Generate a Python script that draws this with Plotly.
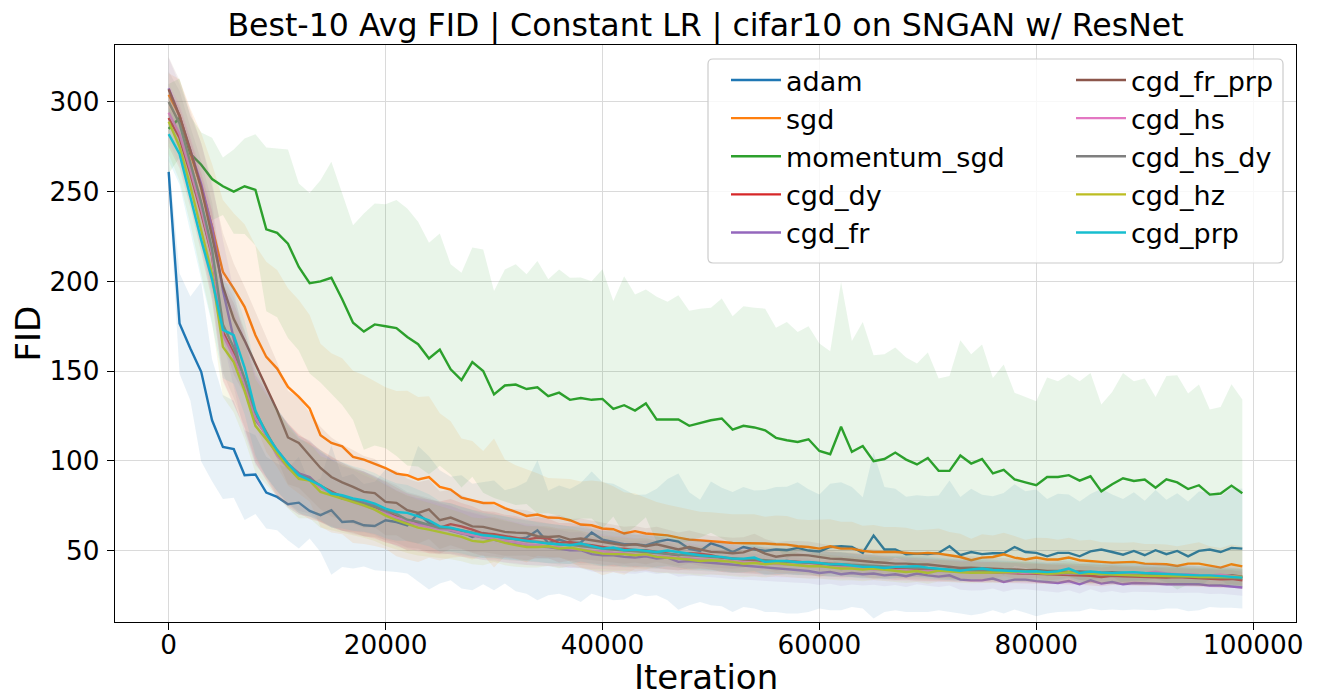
import plotly.graph_objects as go

# ---------------- data ----------------
iterations = [i * 1000 for i in range(100)]

series_names = ["adam", "sgd", "momentum_sgd", "cgd_dy", "cgd_fr",
                "cgd_fr_prp", "cgd_hs", "cgd_hs_dy", "cgd_hz", "cgd_prp"]
series_colors = ["#1f77b4", "#ff7f0e", "#2ca02c", "#d62728", "#9467bd",
                 "#8c564b", "#e377c2", "#7f7f7f", "#bcbd22", "#17becf"]

adam_mean = [261, 176.5, 162.6, 149.6, 122.6, 107.7, 106.5, 92, 92.4, 82.3,
             79.9, 75.8, 76.7, 72.1, 69.7, 72.5, 65.9, 66.3, 64.1, 63.7,
             66.9, 65.9, 64.1, 70.6, 65.4, 63.2, 62.3, 60.4, 57.6, 59.8,
             58.5, 57.6, 56.3, 57.2, 61.3, 54.2, 56.1, 54.2, 54.5, 60,
             56.1, 54.8, 53.5, 53.5, 52.9, 54.8, 56.1, 55, 51, 49.8,
             54, 52, 49.2, 52, 50.6, 49.8, 50.6, 50.2, 51.5, 50,
             49.5, 52, 52.4, 52, 48.7, 58.4, 50.6, 50.6, 47.9, 48.3,
             48, 48.7, 52.4, 47.4, 49.2, 48, 48.5, 48.5, 52, 49.2,
             48.7, 46.8, 48.7, 48.7, 46.8, 49.6, 50.6, 49.2, 47.7, 49.8,
             47.4, 50.2, 48, 49.8, 46.8, 49.8, 50.6, 49.2, 51.5, 51.1]
adam_std = [8, 28, 29, 50, 34, 29, 27, 25, 22, 20,
            18.6, 20, 25.6, 15.4, 20.5, 36, 25, 26.3, 23, 24.7,
            28.3, 27.8, 26.9, 37.7, 37.1, 31.6, 28.9, 31.6, 29.7, 28.6,
            30.6, 26, 29, 31.2, 39, 29.1, 30.1, 30.1, 33.2, 34,
            32, 32.5, 30.8, 27.5, 28.4, 29.7, 33.8, 38, 31.5, 28.5,
            34.5, 33, 33.4, 33.4, 32.9, 34, 34.8, 35.3, 36.6, 34.2,
            31.8, 35.3, 35.7, 33.4, 31, 46.3, 34.8, 33.9, 32.1, 32.5,
            32.2, 32, 36.6, 32.5, 35.2, 33.1, 31.8, 33.6, 34.9, 33.9,
            35.3, 31.9, 32.9, 32.5, 30.6, 31.9, 33.9, 32.1, 31, 32.7,
            30.3, 33.5, 30.3, 32.1, 30.6, 33.1, 32, 31, 33.3, 33.4]

sgd_mean = [304, 292.6, 271.3, 252.7, 230.4, 205.3, 196, 185.8, 170, 157.9,
            151.4, 141.2, 135.6, 129.2, 114.3, 110, 108.1, 102.2, 100.7, 98.5,
            96, 92.9, 92, 89.6, 91, 85.5, 84, 79.5, 78, 76.5,
            76.5, 73.7, 71.5, 69.3, 70.1, 68.4, 68.2, 66.9, 64.5, 64.1,
            62.3, 61.9, 59.5, 60.8, 59.5, 59.1, 58.5, 57.2, 56.1, 55.7,
            55.4, 54.8, 54.2, 54.2, 54.2, 53.9, 53.5, 53.3, 52.4, 52,
            51.1, 52.4, 51.1, 51.1, 49.8, 49.2, 49.2, 49.2, 48.7, 48.3,
            48.7, 48.3, 47.4, 46.4, 44.6, 46.1, 46.4, 47.9, 46.1, 45,
            46.1, 45, 45, 46.1, 44.6, 44, 43.7, 43.3, 43.3, 43.7,
            42.7, 42.7, 42.4, 41.4, 42.7, 42.7, 41.4, 40.5, 42.4, 41.2]
sgd_std = [12, 20, 25, 30, 35, 40, 42, 46, 50, 53,
           55, 55, 54, 52, 51, 50, 49, 48, 47, 46,
           45, 46, 47, 46, 45, 41, 38, 33, 33, 29,
           36, 27, 26, 26, 23, 22, 22, 23, 24, 25,
           26, 24, 23, 21, 20, 18, 17, 17, 17, 16,
           16, 16, 16, 16, 16, 15, 16, 16, 15, 15,
           16, 15, 15, 15, 14, 15, 14, 14, 14, 13,
           13, 14, 13, 13, 12, 13, 12, 12, 12, 11,
           11, 12, 11, 11, 11, 12, 11, 11, 11, 11,
           11, 11, 11, 11, 11, 12, 11, 11, 11, 11]

momentum_sgd_mean = [285, 291, 271, 265, 257, 253, 250, 253, 251, 229,
                     227, 221, 208, 199, 200, 202, 190, 177, 172, 176,
                     175, 174, 169, 165, 157, 162, 151, 145, 155, 150,
                     137, 142, 142.5, 140, 141, 136, 138, 134, 135, 134,
                     134.5, 129, 131, 128, 132, 123, 123, 123, 119.5, 121,
                     122.6, 123.6, 117.4, 119.5, 118.6, 117, 112.8, 111.5, 110.5, 112,
                     105.5, 103.7, 119, 105, 108.3, 99.8, 101, 104.6, 100.7, 98,
                     101.6, 94.4, 94.4, 103, 98.5, 101, 93, 95, 89.7, 88,
                     86.4, 91, 91, 92, 89, 91.4, 83, 87, 90.3, 88.8,
                     89.6, 85, 89.7, 88, 84.3, 86.4, 81.2, 81.8, 86.2, 82]
momentum_sgd_std = [25, 22, 21, 18, 23, 16, 23.5, 26.6, 31, 45.6,
                    47, 52.5, 46.5, 50.3, 56.4, 64.6, 58.9, 54.3, 65.8, 67.4,
                    68, 71.3, 71.6, 68.2, 64.5, 64.7, 58.6, 59.8, 63.9, 67.8,
                    57.7, 64.6, 67.1, 64, 70.3, 65.2, 68.6, 68, 67.2, 66.1,
                    72.3, 60, 71.9, 64.7, 63.5, 68.4, 65.6, 69.3, 64.1, 63.8,
                    62.7, 66.9, 63.2, 66.7, 66.7, 67.8, 61.4, 65.9, 61.3, 63,
                    59.9, 57.4, 80.7, 61.8, 69.1, 59.1, 58.4, 58.5, 56.9, 56.2,
                    58.8, 51.5, 52.8, 64.2, 60.9, 63.8, 53.2, 58.7, 48.2, 47.6,
                    46.8, 55.4, 53.4, 56.3, 55.4, 57.6, 48.4, 51.4, 58.7, 55.6,
                    56.3, 50.6, 57.5, 59.7, 53.2, 56.1, 47.4, 48.2, 56.5, 52.2]

cgd_dy_mean = [291, 280, 260, 238, 214, 172, 160, 145, 125, 114,
               104, 98, 93, 89, 86, 83, 80, 78, 76, 74,
               71.5, 69.1, 66, 65.4, 63.5, 62.8, 64.7, 63.5, 61.7, 59.5,
               59.1, 58, 57.2, 56.1, 57.2, 56.7, 54.3, 54.8, 53.5, 53,
               52, 51.1, 51.1, 50.2, 50.2, 49.2, 48.3, 47.4, 48.5, 48.3,
               47.4, 46.1, 45.5, 45, 44.6, 44.2, 43.7, 44.2, 43.7, 43.1,
               42.7, 42.4, 41.8, 41.8, 41.3, 40.9, 40.5, 40, 40, 39.4,
               39.4, 39, 38.8, 38.5, 38.3, 38, 37.9, 37.5, 37.5, 37.2,
               37, 36.8, 36.6, 36.5, 36.2, 36, 35.3, 36, 35.7, 35.5,
               35.3, 35.5, 35, 35.2, 34.9, 34.7, 34.5, 34, 34.2, 33.4]
cgd_dy_std = [16, 17, 19, 22, 25, 27, 28, 27, 26, 25,
              24, 23, 22, 21.5, 20, 19.5, 19, 18, 18, 17,
              17, 16, 16, 15, 15, 14.5, 14, 13, 13, 12.5,
              12.5, 12, 12, 11.5, 11.5, 11, 11, 10.5, 10.5, 10,
              10, 9.8, 9.5, 9.5, 9, 9, 8.8, 8.5, 8.5, 8.2,
              8, 8, 7.8, 7.6, 7.6, 7.4, 7.4, 7.2, 7.2, 7,
              7, 6.8, 6.8, 6.6, 6.6, 6.5, 6.4, 6.4, 6.2, 6.2,
              6, 6, 6, 5.8, 5.8, 5.8, 5.6, 5.6, 5.6, 5.5,
              5.5, 5.4, 5.4, 5.4, 5.3, 5.3, 5.2, 5.2, 5.2, 5.1,
              5.1, 5, 5, 5, 5, 4.9, 4.9, 4.9, 4.8, 4.8]

cgd_fr_mean = [307.5, 292, 273, 254, 230, 195, 168, 141, 122.6, 115,
               106, 98.5, 93, 91, 85.5, 82, 79, 78, 77, 75.2,
               71.5, 67.8, 65.4, 64.7, 64.1, 62.8, 61.3, 59.5, 58.5, 57.2,
               56.1, 54.8, 53.9, 53, 52.4, 52, 51.1, 50.2, 50.2, 48,
               47.4, 47.4, 46.5, 46.1, 46.8, 45.5, 46.1, 43.7, 44.2, 43.7,
               43.1, 42.4, 41.8, 41.3, 40.9, 40.5, 40, 39.4, 39, 38.6,
               37.5, 38.1, 36.8, 37.5, 36.8, 37.2, 36.2, 36.8, 35.7, 37.2,
               36.2, 35.5, 36.2, 33.8, 33.4, 33.4, 34.4, 32.5, 33.8, 33.8,
               33, 32.5, 31.9, 33, 31.2, 33.4, 31.6, 32.5, 31.2, 31.9,
               31.9, 31.6, 31.2, 31.2, 31.2, 31.2, 30.5, 30.5, 30, 29.4]
cgd_fr_std = [17, 18, 20, 23, 26, 28, 27, 26, 25, 24,
              23, 22.5, 21, 20.5, 19.5, 19, 18, 17.5, 17, 16.5,
              16, 15.5, 15, 14.5, 14.5, 14, 13.5, 13, 12.5, 12.5,
              12, 11.5, 11.5, 11, 11, 10.5, 10.5, 10, 10, 9.7,
              9.5, 9.3, 9.1, 9, 8.8, 8.6, 8.5, 8.3, 8.2, 8,
              7.8, 7.7, 7.6, 7.4, 7.3, 7.2, 7.1, 7, 6.9, 6.8,
              6.7, 6.6, 6.5, 6.4, 6.3, 6.2, 6.1, 6, 6, 5.9,
              5.8, 5.8, 5.7, 5.6, 5.6, 5.5, 5.5, 5.4, 5.4, 5.3,
              5.3, 5.2, 5.2, 5.1, 5.1, 5, 5, 5, 4.9, 4.9,
              4.9, 4.8, 4.8, 4.8, 4.7, 4.7, 4.7, 4.6, 4.6, 4.6]

cgd_fr_prp_mean = [307, 292, 273, 252, 225, 197, 179, 167, 154, 141,
                   128, 113, 110, 103, 96, 91, 88, 85.5, 82.7, 82,
                   77.1, 76.6, 72.5, 71, 72.9, 66.9, 68.4, 66, 63.5, 63.2,
                   61.7, 60.4, 60, 59.8, 58, 57.6, 58, 56.1, 56.7, 55.7,
                   54.8, 53.9, 53, 53.5, 52.4, 53.5, 51.9, 50.6, 52, 50.6,
                   49.3, 49, 48.5, 49, 51.1, 48.3, 46.6, 47.4, 47.6, 47.3,
                   46.2, 45.5, 45.3, 44.6, 44.3, 43.6, 43.2, 42.7, 42.7, 42.2,
                   42.2, 41.6, 41, 40.3, 40.5, 40.1, 39.8, 39.6, 39.5, 39,
                   39.2, 38.6, 38.7, 38.1, 38.3, 37.8, 37.6, 37.9, 37.3, 37.1,
                   37, 36.8, 36.9, 36.4, 36.5, 36.1, 35.8, 35.6, 36.3, 35.5]
cgd_fr_prp_std = [18, 20, 22, 25, 28, 30, 31, 30, 29, 28,
                  27, 26, 25, 24, 23, 22, 21, 20.5, 20, 19,
                  18.5, 18, 17.5, 17, 16.5, 16, 15.5, 15, 14.5, 14,
                  13.5, 13.3, 13, 12.6, 12.3, 12, 11.8, 11.5, 11.2, 11,
                  10.8, 10.5, 10.3, 10.2, 10, 9.8, 9.6, 9.4, 9.2, 9,
                  8.8, 8.7, 8.6, 8.4, 8.3, 8.2, 8, 7.9, 7.8, 7.7,
                  7.6, 7.5, 7.4, 7.3, 7.2, 7.1, 7, 6.9, 6.8, 6.7,
                  6.6, 6.5, 6.5, 6.4, 6.3, 6.3, 6.2, 6.1, 6.1, 6,
                  6, 5.9, 5.9, 5.8, 5.8, 5.7, 5.7, 5.6, 5.6, 5.6,
                  5.5, 5.5, 5.5, 5.4, 5.4, 5.4, 5.3, 5.3, 5.3, 5.2]

cgd_hs_mean = [294, 282, 262, 240, 215, 170, 158, 143, 124, 114,
               103, 96, 91, 89.5, 85, 82, 79.5, 77, 75, 73,
               70.5, 68.3, 66.6, 64.2, 63.1, 61.8, 61.6, 59.8, 58.7, 57.4,
               56.9, 55.3, 54.6, 53.4, 53.1, 52.3, 51.9, 51.1, 50.6, 49.8,
               49.6, 48.8, 48.6, 47.7, 47.6, 46.8, 46.6, 45.8, 45.7, 45.1,
               45.1, 44.4, 44.1, 43.5, 43.4, 42.8, 42.6, 42.1, 42.1, 41.5,
               41.4, 40.8, 40.7, 40.2, 40.1, 39.6, 39.6, 39.1, 39.1, 38.6,
               38.6, 38.4, 38.6, 38.1, 38.3, 37.8, 38.2, 37.7, 37.9, 37.5,
               37.6, 37.2, 37.5, 37.1, 37.3, 37.2, 36.9, 37.3, 36.8, 37.1,
               37.4, 38.2, 37.2, 36.8, 36.9, 36.4, 36.2, 36.5, 35.9, 35.2]
cgd_hs_std = [16, 17, 19, 22, 25, 26, 27, 26, 25, 24,
              23, 22, 21, 20.5, 19.5, 19, 18.5, 18, 17, 16.5,
              16, 15.5, 15, 15, 14.5, 14, 13.5, 13, 13, 12.5,
              12, 12, 11.5, 11.5, 11, 11, 10.5, 10.5, 10, 10,
              9.7, 9.5, 9.3, 9.2, 9, 8.8, 8.7, 8.5, 8.4, 8.2,
              8, 7.9, 7.8, 7.7, 7.5, 7.4, 7.3, 7.2, 7.1, 7,
              6.9, 6.8, 6.7, 6.6, 6.5, 6.4, 6.3, 6.2, 6.2, 6.1,
              6, 6, 5.9, 5.9, 5.8, 5.7, 5.7, 5.6, 5.6, 5.5,
              5.5, 5.4, 5.4, 5.3, 5.3, 5.3, 5.2, 5.2, 5.2, 5.1,
              5.1, 5.1, 5, 5, 5, 4.9, 4.9, 4.9, 4.8, 4.8]

cgd_hs_dy_mean = [300, 288, 266, 244, 218, 176, 163, 146, 127, 116,
                  105, 97, 92, 90, 86, 82.5, 80, 78, 76, 74.5,
                  72.5, 70.4, 67.2, 66.1, 64.3, 62.6, 62.4, 61.1, 59.8, 58.9,
                  58.1, 56.8, 56.3, 55.1, 54.9, 54.1, 53.3, 53.2, 52.4, 51.8,
                  51.1, 50.6, 50.1, 49.4, 49.3, 48.6, 48.1, 47.6, 47.4, 46.8,
                  46.5, 46.1, 45.6, 45.2, 45.1, 44.5, 44.2, 43.9, 43.6, 43.2,
                  42.9, 42.6, 42.3, 41.8, 41.7, 41.2, 41, 40.7, 40.4, 40.1,
                  40, 39.6, 39.5, 39.1, 39, 38.8, 38.5, 38.4, 38.2, 37.9,
                  37.9, 37.6, 37.5, 37.3, 37.1, 37, 36.7, 36.6, 36.4, 36.3,
                  36.2, 35.9, 35.9, 35.6, 35.5, 35.3, 35.2, 35, 34.8, 34.6]
cgd_hs_dy_std = [17, 18, 20, 23, 26, 27, 28, 27, 26, 25,
                 24, 23, 22, 21, 20, 19.5, 19, 18.5, 18, 17,
                 16.5, 16, 15.5, 15, 15, 14.5, 14, 13.5, 13, 13,
                 12.5, 12, 12, 11.5, 11.5, 11, 11, 10.5, 10.5, 10,
                 9.9, 9.7, 9.5, 9.3, 9.1, 9, 8.8, 8.6, 8.5, 8.3,
                 8.1, 8, 7.9, 7.8, 7.6, 7.5, 7.4, 7.3, 7.2, 7.1,
                 7, 6.9, 6.8, 6.7, 6.6, 6.5, 6.4, 6.3, 6.3, 6.2,
                 6.1, 6, 6, 5.9, 5.9, 5.8, 5.7, 5.7, 5.6, 5.6,
                 5.5, 5.5, 5.4, 5.4, 5.4, 5.3, 5.3, 5.2, 5.2, 5.2,
                 5.1, 5.1, 5.1, 5, 5, 5, 4.9, 4.9, 4.9, 4.8]

cgd_hz_mean = [289, 275, 253, 228, 204, 163.5, 155, 139, 119.5, 112,
               104, 96.5, 90, 89, 82.7, 80.8, 79, 77, 75.2, 72.8,
               69.5, 66.9, 64.7, 62.8, 61.7, 60.4, 59.1, 57.6, 55.4, 54.8,
               56.1, 54.3, 53, 52, 52, 52.4, 51.1, 51.7, 50.5, 49.2,
               48.3, 48, 48, 47.4, 48, 46.5, 46.1, 45.5, 45, 44.2,
               44.6, 44.2, 43.7, 42.7, 43.1, 42.4, 43.1, 42.4, 41.8, 41.3,
               41.3, 40.5, 40, 40, 39.4, 40, 39.4, 39, 38.1, 38.6,
               37.5, 38.8, 38.2, 37.9, 37.6, 37.5, 37.8, 37.9, 38, 38.3,
               37.6, 37, 37.4, 37.9, 37.3, 37, 36.8, 36.6, 36.5, 36.2,
               36, 35.9, 36.1, 35.9, 35.6, 35.3, 35.5, 35.3, 35.4, 35.3]
cgd_hz_std = [18, 19, 21, 24, 27, 28, 28, 27, 26, 25,
              24, 23, 22, 21, 20, 19.5, 19, 18.5, 18, 17.5,
              17, 16.5, 16, 15.5, 15, 14.5, 14, 13.5, 13, 13,
              12.5, 12.5, 12, 11.5, 11.5, 11, 11, 10.5, 10.5, 10,
              9.8, 9.6, 9.4, 9.2, 9, 8.9, 8.7, 8.5, 8.4, 8.2,
              8, 7.9, 7.8, 7.6, 7.5, 7.4, 7.3, 7.2, 7.1, 7,
              6.9, 6.8, 6.7, 6.6, 6.5, 6.4, 6.3, 6.3, 6.2, 6.1,
              6, 6, 5.9, 5.8, 5.8, 5.7, 5.7, 5.6, 5.6, 5.5,
              5.5, 5.4, 5.4, 5.3, 5.3, 5.3, 5.2, 5.2, 5.1, 5.1,
              5.1, 5, 5, 5, 4.9, 4.9, 4.9, 4.8, 4.8, 4.8]

cgd_prp_mean = [282, 271, 247, 223, 201, 173, 170, 152, 128, 115,
                106, 98.5, 92, 89, 86.4, 81.8, 80.8, 79, 78, 76.2,
                73.4, 71.5, 71, 69.1, 66.9, 63.5, 62.8, 61.3, 59.8, 58.5,
                58, 57.2, 56.1, 55.7, 54.8, 53.9, 53.5, 53, 53.9, 52.4,
                51.1, 51.7, 50.2, 50.5, 49.8, 49.2, 50, 49.1, 48, 47.4,
                46.9, 46.5, 45.5, 45.5, 46.1, 43.7, 44.2, 44.2, 43.5, 43.7,
                43.1, 42.3, 42.4, 41.8, 40.9, 40.9, 40.3, 40.9, 41.3, 41.3,
                40.5, 40, 39.5, 38.8, 39.5, 40, 39.2, 38.8, 38.6, 38.3,
                38.5, 38, 38.5, 40, 37.5, 38.3, 37.8, 37.5, 37.8, 38,
                37.5, 37.2, 37, 36.6, 36.5, 36.2, 36.2, 35.9, 35.5, 34.9]
cgd_prp_std = [15, 17, 19, 22, 25, 27, 27, 26, 25, 24,
               23, 22, 21, 20, 19.5, 19, 18.5, 18, 17.5, 17,
               16.5, 16, 15.5, 15, 14.5, 14, 13.5, 13, 13, 12.5,
               12, 12, 11.5, 11.5, 11, 11, 10.5, 10.5, 10, 10,
               9.8, 9.6, 9.4, 9.2, 9, 8.8, 8.7, 8.5, 8.3, 8.2,
               8, 7.9, 7.8, 7.6, 7.5, 7.4, 7.3, 7.2, 7.1, 7,
               6.9, 6.8, 6.7, 6.6, 6.5, 6.4, 6.3, 6.2, 6.2, 6.1,
               6, 6, 5.9, 5.9, 5.8, 5.7, 5.7, 5.6, 5.6, 5.5,
               5.5, 5.4, 5.4, 5.3, 5.3, 5.3, 5.2, 5.2, 5.2, 5.1,
               5.1, 5.1, 5, 5, 5, 4.9, 4.9, 4.9, 4.8, 4.8]

series_means = [adam_mean, sgd_mean, momentum_sgd_mean, cgd_dy_mean, cgd_fr_mean,
                cgd_fr_prp_mean, cgd_hs_mean, cgd_hs_dy_mean, cgd_hz_mean, cgd_prp_mean]
series_stds = [adam_std, sgd_std, momentum_sgd_std, cgd_dy_std, cgd_fr_std,
               cgd_fr_prp_std, cgd_hs_std, cgd_hs_dy_std, cgd_hz_std, cgd_prp_std]

x_tick_values = [0, 20000, 40000, 60000, 80000, 100000]
x_tick_labels = ["0", "20000", "40000", "60000", "80000", "100000"]
y_tick_values = [50, 100, 150, 200, 250, 300]
y_tick_labels = ["50", "100", "150", "200", "250", "300"]

TITLE = "Best-10 Avg FID | Constant LR | cifar10 on SNGAN w/ ResNet"
FONT = "DejaVu Sans"


def rgba(hex_color, alpha):
    h = hex_color.lstrip("#")
    r, g, b = int(h[0:2], 16), int(h[2:4], 16), int(h[4:6], 16)
    return f"rgba({r},{g},{b},{alpha})"


fig = go.Figure()

for idx, (name, color, mean, std) in enumerate(zip(series_names, series_colors,
                                                   series_means, series_stds)):
    n = min(len(iterations), len(mean), len(std))
    xs = iterations[:n]
    upper = [m + s for m, s in zip(mean[:n], std[:n])]
    lower = [m - s for m, s in zip(mean[:n], std[:n])]
    fig.add_trace(go.Scatter(
        x=xs + xs[::-1], y=upper + lower[::-1],
        fill="toself", fillcolor=rgba(color, 0.1),
        line=dict(width=0, color=rgba(color, 0)),
        mode="lines", hoverinfo="skip", showlegend=False))
    fig.add_trace(go.Scatter(
        x=xs, y=mean[:n], mode="lines", name=name,
        line=dict(color=color, width=2.4),
        legend="legend" if idx < 5 else "legend2"))

# The page body has an 8px margin; the figure is sized so that it fills the
# 1322x696 window exactly.  Positions below are given in window pixels.
OFF = 8
FIG_W, FIG_H = 1322 - OFF, 696 - OFF
PLOT_X0, PLOT_X1, PLOT_Y0, PLOT_Y1 = 115, 1296, 45, 622   # window px
L = PLOT_X0 - OFF
T = PLOT_Y0 - OFF
R = FIG_W - (PLOT_X1 - OFF)
B = FIG_H - (PLOT_Y1 - OFF)
W, H = PLOT_X1 - PLOT_X0, PLOT_Y1 - PLOT_Y0


def px_x(p):
    return (p - PLOT_X0) / W


def px_y(p):
    return (PLOT_Y1 - p) / H


# legend frame (rounded, semi-transparent white)
x0, x1 = px_x(708), px_x(1283)
y0, y1 = px_y(263), px_y(59)
rx, ry = 5 / W, 5 / H
path = (f"M{x0+rx},{y1} L{x1-rx},{y1} Q{x1},{y1} {x1},{y1-ry} "
        f"L{x1},{y0+ry} Q{x1},{y0} {x1-rx},{y0} L{x0+rx},{y0} "
        f"Q{x0},{y0} {x0},{y0+ry} L{x0},{y1-ry} Q{x0},{y1} {x0+rx},{y1} Z")
fig.add_shape(type="path", path=path, xref="paper", yref="paper",
              fillcolor="rgba(255,255,255,0.8)", line=dict(color="#cccccc", width=1.2),
              layer="above")

legend_common = dict(xanchor="left", yanchor="top", bgcolor="rgba(0,0,0,0)",
                     borderwidth=0, font=dict(family=FONT, size=27, color="black"),
                     tracegroupgap=0, itemwidth=50)

fig.update_layout(
    width=FIG_W, height=FIG_H,
    margin=dict(l=L, r=R, t=T, b=B, autoexpand=False),
    paper_bgcolor="white", plot_bgcolor="white",
    font=dict(family=FONT, color="black"),
    title=dict(text=TITLE, x=0.5, xref="paper", xanchor="center",
               y=1 - (25 - OFF) / FIG_H, yref="container", yanchor="middle",
               font=dict(family=FONT, size=31.6, color="black")),
    legend=dict(x=px_x(726), y=px_y(56), **legend_common),
    legend2=dict(x=px_x(1071), y=px_y(56), **legend_common),
    showlegend=True,
)

axis_common = dict(tickmode="array", showgrid=True, gridcolor="#dadada", gridwidth=1.2,
                   zeroline=False, showline=True, linecolor="black", linewidth=1.3,
                   mirror=True, ticks="outside", ticklen=7, tickwidth=1.3,
                   tickcolor="black", tickfont=dict(family=FONT, size=26.3),
                   automargin=False)
fig.update_xaxes(range=[-4950, 103950], tickvals=x_tick_values, ticktext=x_tick_labels,
                 ticklabelstandoff=-8, **axis_common)
fig.update_yaxes(range=[10.2, 331.7], tickvals=y_tick_values, ticktext=y_tick_labels,
                 ticklabelstandoff=2, **axis_common)

fig.add_annotation(text="Iteration", xref="paper", yref="paper",
                   x=0.5, y=px_y(677), xanchor="center", yanchor="middle",
                   showarrow=False, font=dict(family=FONT, size=34, color="black"))
fig.add_annotation(text="FID", xref="paper", yref="paper",
                   x=px_x(27), y=0.5, xanchor="center", yanchor="middle",
                   textangle=-90, showarrow=False,
                   font=dict(family=FONT, size=34, color="black"))

fig.write_html("out.html")
